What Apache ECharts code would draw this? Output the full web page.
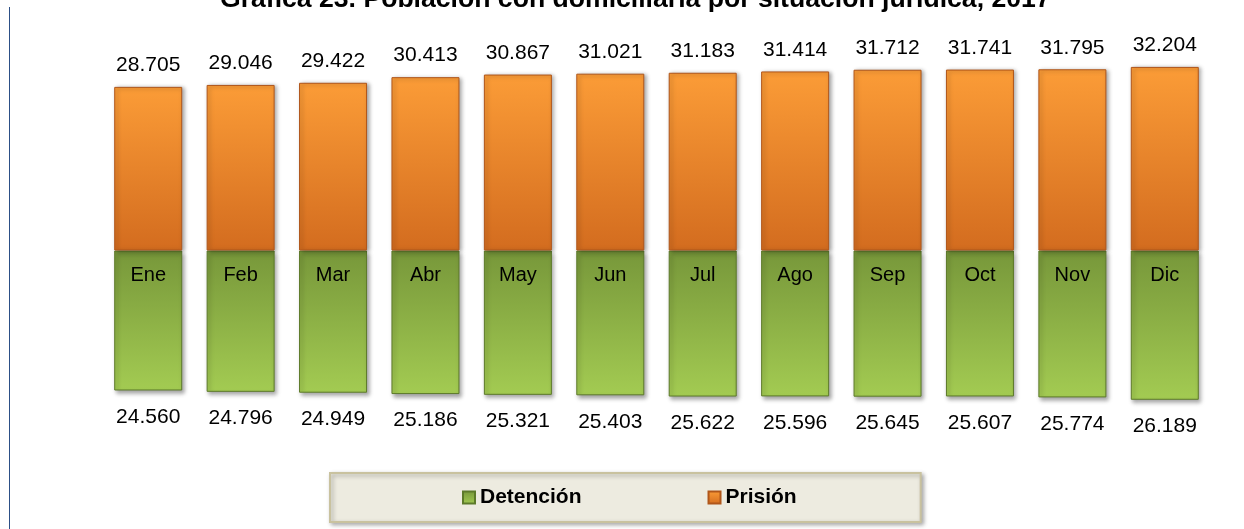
<!DOCTYPE html>
<html>
<head>
<meta charset="utf-8">
<title>Población con domiciliaria por situación jurídica</title>
<script src="https://cdn.jsdelivr.net/npm/echarts@6/dist/echarts.min.js"></script>
<style>
	html, body { margin: 0; padding: 0; background: #fff; }
	#DomBar { width: 1244px; height: 529px; }
</style>
</head>
<body>
<div id="DomBar"></div>
<script>
// datos
var meses = ['Ene', 'Feb', 'Mar', 'Abr', 'May', 'Jun', 'Jul', 'Ago', 'Sep', 'Oct', 'Nov', 'Dic'];
var detencion = [24560, 24796, 24949, 25186, 25321, 25403, 25622, 25596, 25645, 25607, 25774, 26189];
var prision = [28705, 29046, 29422, 30413, 30867, 31021, 31183, 31414, 31712, 31741, 31795, 32204];

(function(){
	var dom = document.getElementById("DomBar");
	var chart = echarts.init(dom);
	var option = null;
	var fuente = 'Liberation Sans, Arial, sans-serif';

	// 24560 -> "24.560"
	function miles(v){
		var a = Math.abs(v);
		var r = String(a % 1000);
		while (r.length < 3) r = '0' + r;
		return Math.floor(a / 1000) + '.' + r;
	}

	// detencion va hacia abajo del eje
	var detNeg = detencion.map(function (v) { return -v; });
	// nombres de mes sobre la linea de cero
	var ceros = meses.map(function () { return 0; });

	option = {
		backgroundColor: '#ffffff',
		title: {
			text: 'Gráfica 23. Población con domiciliaria por situación jurídica, 2017',
			left: 220,
			top: -14,
			padding: 0,
			textStyle: { fontFamily: fuente, fontSize: 26.6, fontWeight: 'bold', color: '#000' }
		},
		legend: {
			data: ['Detención', 'Prisión'],
			left: 330,
			top: 473,
			padding: [14, 124, 14, 132],
			itemWidth: 12,
			itemHeight: 12,
			itemGap: 126,
			icon: 'rect',
			backgroundColor: '#edebe0',
			borderColor: '#c9c29f',
			borderWidth: 2,
			shadowColor: 'rgba(0,0,0,0.3)',
			shadowBlur: 4,
			shadowOffsetX: 2,
			shadowOffsetY: 2,
			textStyle: { fontFamily: fuente, fontSize: 21, fontWeight: 'bold', color: '#000' }
		},
		grid: { left: 102, right: 33, top: 22.5, bottom: 50.5 },
		xAxis: {
			type: 'category',
			data: meses,
			axisLine: { show: false },
			axisTick: { show: false },
			splitLine: { show: false },
			axisLabel: { show: false }
		},
		yAxis: {
			type: 'value',
			min: -40000,
			max: 40000,
			axisLine: { show: false },
			axisTick: { show: false },
			axisLabel: { show: false },
			splitLine: { show: false }
		},
		series: [
			{
				name: 'Detención',
				type: 'bar',
				stack: 'total',
				barWidth: 68,
				data: detNeg,
				itemStyle: {
					color: new echarts.graphic.LinearGradient(0, 0, 0, 1, [
						{ offset: 0, color: '#77973a' },
						{ offset: 1, color: '#a3cb52' }
					]),
					borderColor: '#5d7a2a',
					borderWidth: 1,
					shadowColor: 'rgba(0,0,0,0.35)',
					shadowBlur: 4,
					shadowOffsetX: 2,
					shadowOffsetY: 3
				},
				label: {
					show: true,
					position: 'bottom',
					distance: 16,
					fontFamily: fuente,
					fontSize: 21,
					color: '#000',
					formatter: function (p) { return miles(p.value); }
				}
			},
			{
				name: 'Prisión',
				type: 'bar',
				stack: 'total',
				barWidth: 68,
				data: prision,
				itemStyle: {
					color: new echarts.graphic.LinearGradient(0, 0, 0, 1, [
						{ offset: 0, color: '#fb9c37' },
						{ offset: 1, color: '#d36c1f' }
					]),
					borderColor: '#b0561a',
					borderWidth: 1,
					shadowColor: 'rgba(0,0,0,0.35)',
					shadowBlur: 4,
					shadowOffsetX: 2,
					shadowOffsetY: 1
				},
				label: {
					show: true,
					position: 'top',
					distance: 11,
					fontFamily: fuente,
					fontSize: 21,
					color: '#000',
					formatter: function (p) { return miles(p.value); }
				}
			},
			{
				name: 'mes',
				type: 'scatter',
				data: ceros,
				symbolSize: 0,
				silent: true,
				z: 10,
				itemStyle: { opacity: 1 },
				label: {
					show: true,
					position: 'bottom',
					distance: 15,
					fontFamily: fuente,
					fontSize: 20,
					color: '#000',
					opacity: 1,
					formatter: '{b}'
				}
			}
		],
		graphic: [
			{
				type: 'line',
				shape: { x1: 9.5, y1: 7, x2: 9.5, y2: 529 },
				style: { stroke: '#2c4f86', lineWidth: 1 }
			}
		]
	};

	if (option && typeof option === "object") {
		chart.setOption(option, true);
	}
})();
</script>
</body>
</html>
